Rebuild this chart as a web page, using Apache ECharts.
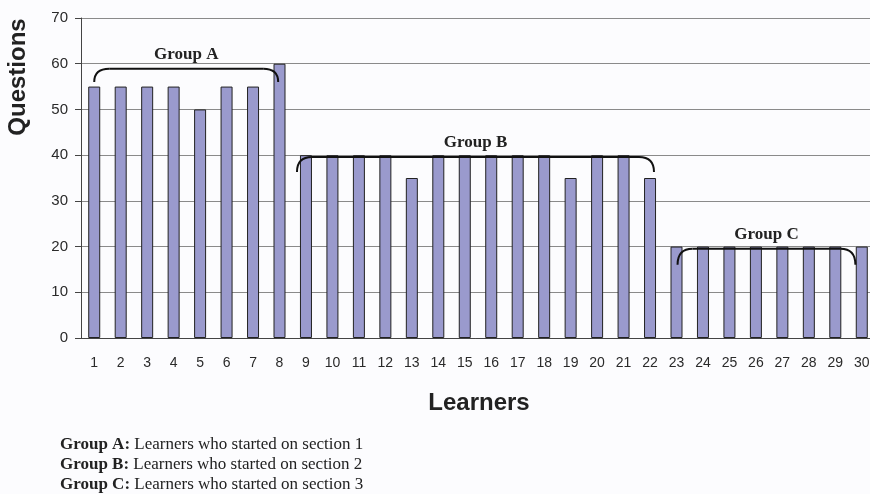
<!DOCTYPE html>
<html>
<head>
<meta charset="utf-8">
<script src="https://cdn.jsdelivr.net/npm/echarts@6/dist/echarts.min.js"></script>
<style>
  html, body { margin: 0; padding: 0; background: #fcfcfe; }
  #chart { width: 870px; height: 494px; }
</style>
</head>
<body>
<div id="chart"></div>
<script>
// Learner numbers along the x axis
const learners = ['1','2','3','4','5','6','7','8','9','10','11','12','13','14','15',
                  '16','17','18','19','20','21','22','23','24','25','26','27','28','29','30'];

// Number of questions per learner
const questions = [55, 55, 55, 55, 50, 55, 55, 60,
                   40, 40, 40, 40, 35, 40, 40, 40, 40, 40, 35, 40, 40, 35,
                   20, 20, 20, 20, 20, 20, 20, 20];

// Group brackets: label, span in learner units, top and end heights in questions
const groupNames  = ['Group A', 'Group B', 'Group C'];
const groupFrom   = [1.0, 8.66, 23.04];
const groupTo     = [7.95, 22.15, 29.76];
const groupTop    = [58.9, 39.6, 19.5];
const groupBottom = [56.0, 36.3, 16.0];

// Footnote lines
const noteKeys  = ['Group A:', 'Group B:', 'Group C:'];
const noteTexts = ['Learners who started on section 1',
                   'Learners who started on section 2',
                   'Learners who started on section 3'];

const yTicks = { min: 0, max: 70, interval: 10 };

const chart = echarts.init(document.getElementById('chart'), null, { renderer: 'canvas' });

const bracketData = groupNames.map((n, i) => [groupFrom[i], groupTo[i], groupTop[i], groupBottom[i], n]);

function renderBracket(params, api) {
  const from = api.value(0), to = api.value(1);
  const top = api.value(2), bottom = api.value(3);
  const name = groupNames[params.dataIndex];
  const band = api.size([1, 0])[0];
  const xAt = (v) => {
    const i = Math.floor(v);
    return api.coord([i - 1, 0])[0] + (v - i) * band;
  };
  const x1 = xAt(from), x2 = xAt(to);
  const yT = api.coord([0, top])[1];
  const yB = api.coord([0, bottom])[1];
  const r = 15;
  const style = { stroke: '#111', lineWidth: 2, fill: null };
  return {
    type: 'group',
    children: [
      { type: 'bezierCurve', shape: { x1: x1, y1: yB, x2: x1 + r, y2: yT, cpx1: x1, cpy1: yT }, style: style },
      { type: 'line', shape: { x1: x1 + r, y1: yT, x2: x2 - r, y2: yT }, style: style },
      { type: 'bezierCurve', shape: { x1: x2 - r, y1: yT, x2: x2, y2: yB, cpx1: x2, cpy1: yT }, style: style },
      { type: 'text', x: (x1 + x2) / 2, y: yT - 14,
        style: { text: name, font: 'bold 17px "Liberation Serif", "Times New Roman", serif',
                 fill: '#222', align: 'center', verticalAlign: 'middle' } }
    ]
  };
}

const notes = noteKeys.map((k, i) => ({
  type: 'text', left: 60, top: 436 + i * 20,
  style: {
    text: '{b|' + k + '} ' + noteTexts[i],
    font: '17px "Liberation Serif", "Times New Roman", serif',
    fill: '#222',
    rich: { b: { font: 'bold 17px "Liberation Serif", "Times New Roman", serif', fill: '#222' } }
  }
}));

chart.setOption({
  animation: false,
  backgroundColor: '#fcfcfe',
  grid: { left: 81, top: 18, width: 794, bottom: 156, outerBoundsMode: 'none', containLabel: false },
  xAxis: {
    type: 'category',
    data: learners,
    boundaryGap: true,
    axisLine: { lineStyle: { color: '#444', width: 1 } },
    axisTick: { length: 5, lineStyle: { color: '#444' } },
    axisLabel: { color: '#2a2a2a', fontSize: 14, fontFamily: 'Liberation Sans, Arial, sans-serif', margin: 18, interval: 0 },
    splitLine: { show: false }
  },
  yAxis: {
    type: 'value',
    min: yTicks.min, max: yTicks.max, interval: yTicks.interval,
    axisLine: { show: true, lineStyle: { color: '#444', width: 1 } },
    axisTick: { show: true, length: 6, lineStyle: { color: '#444' } },
    axisLabel: { color: '#2a2a2a', fontSize: 15, fontFamily: 'Liberation Sans, Arial, sans-serif', margin: 13 },
    splitLine: { show: true, lineStyle: { color: '#8a8a8a', width: 1 } }
  },
  graphic: [
    { type: 'text', x: 18, y: 77, rotation: Math.PI / 2,
      style: { text: 'Questions', font: 'bold 24px "Liberation Sans", Arial, sans-serif',
               fill: '#222', align: 'center', verticalAlign: 'middle' } },
    { type: 'text', x: 479, y: 403,
      style: { text: 'Learners', font: 'bold 24px "Liberation Sans", Arial, sans-serif',
               fill: '#222', align: 'center', verticalAlign: 'middle' } }
  ].concat(notes),
  series: [
    {
      type: 'bar',
      data: questions,
      barWidth: 12,
      itemStyle: { color: '#9a9acd', borderColor: '#222', borderWidth: 1 },
      z: 2
    },
    {
      type: 'custom',
      renderItem: renderBracket,
      data: bracketData,
      encode: { x: 0, y: 2 },
      clip: false,
      silent: true,
      z: 5
    }
  ]
});
</script>
</body>
</html>
